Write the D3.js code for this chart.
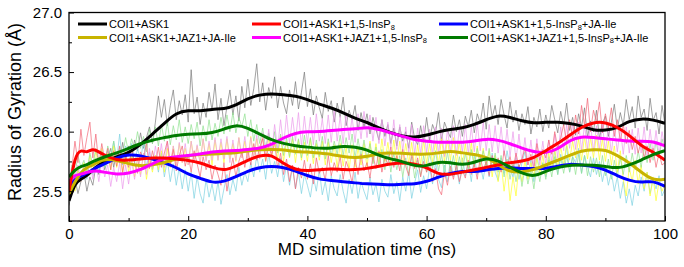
<!DOCTYPE html>
<html><head><meta charset="utf-8">
<script src="https://cdn.jsdelivr.net/npm/d3@7"></script>
<style>body{margin:0;background:#fff}svg{display:block;font-family:Arial,"Liberation Sans",sans-serif}</style>
</head><body><svg id="c" width="684" height="267"></svg>
<script>
const seriesNames = ["COI1+ASK1","COI1+ASK1+1,5-InsP8","COI1+ASK1+1,5-InsP8+JA-Ile","COI1+ASK1+JAZ1+JA-Ile","COI1+ASK1+JAZ1+1,5-InsP8","COI1+ASK1+JAZ1+1,5-InsP8+JA-Ile"];
const smoothColors = ["#000000","#ff0000","#0000ff","#c8b400","#ff00ff","#007a00"];
const rawColors = ["#7e7e7e","#f26878","#80d2e2","#ffff30","#ec9cec","#92e292"];
const xTicks = [0,20,40,60,80,100];
const xMinor = [10,30,50,70,90];
const yTicks = [25.5,26.0,26.5,27.0];
const yMinor = [25.25,25.75,26.25,26.75];
const rawStep = 0.5;
const smoothTime = [0,1,2,3,4,5,6,8,10,12,14,16,18,20,22,24,26,28,30,32,34,36,38,40,42,44,46,48,50,52,54,56,58,60,62,64,66,68,70,72,74,76,78,80,82,84,86,88,90,92,94,96,98,100];

const smoothBlack = [25.42,25.57,25.60,25.63,25.68,25.72,25.75,25.79,25.82,25.89,25.98,26.07,26.16,26.18,26.17,26.19,26.19,26.22,26.28,26.31,26.32,26.31,26.30,26.27,26.23,26.20,26.16,26.11,26.08,26.03,25.99,25.96,25.95,25.97,26.00,26.02,26.03,26.06,26.10,26.14,26.12,26.09,26.07,26.08,26.08,26.07,26.05,26.01,26.01,26.03,26.09,26.11,26.10,26.07];
const smoothRed = [25.50,25.80,25.85,25.82,25.86,25.83,25.80,25.76,25.76,25.77,25.78,25.78,25.77,25.76,25.74,25.70,25.67,25.71,25.76,25.80,25.81,25.73,25.68,25.67,25.68,25.69,25.68,25.68,25.69,25.71,25.73,25.74,25.73,25.70,25.64,25.64,25.66,25.68,25.70,25.72,25.74,25.75,25.78,25.84,25.90,25.97,26.04,26.08,26.08,26.04,25.97,25.88,25.83,25.76];
const smoothBlue = [25.54,25.60,25.63,25.65,25.68,25.71,25.73,25.78,25.81,25.80,25.77,25.74,25.70,25.64,25.61,25.57,25.58,25.62,25.67,25.70,25.71,25.70,25.67,25.63,25.60,25.59,25.58,25.57,25.56,25.56,25.55,25.56,25.56,25.58,25.62,25.65,25.67,25.66,25.68,25.69,25.70,25.69,25.69,25.69,25.71,25.73,25.72,25.71,25.68,25.63,25.59,25.57,25.59,25.54];
const smoothGold = [25.48,25.58,25.66,25.70,25.72,25.75,25.77,25.76,25.73,25.71,25.72,25.74,25.77,25.80,25.81,25.81,25.82,25.82,25.84,25.85,25.85,25.85,25.83,25.83,25.82,25.81,25.79,25.78,25.79,25.82,25.82,25.82,25.81,25.81,25.82,25.84,25.82,25.81,25.79,25.72,25.66,25.66,25.68,25.72,25.76,25.80,25.84,25.85,25.85,25.80,25.74,25.66,25.59,25.60];
const smoothMagenta = [25.58,25.64,25.64,25.66,25.67,25.67,25.66,25.64,25.65,25.68,25.73,25.78,25.79,25.80,25.81,25.83,25.84,25.84,25.85,25.86,25.89,25.95,25.99,26.00,26.00,26.01,26.02,26.02,26.04,26.02,25.99,25.96,25.93,25.92,25.91,25.91,25.91,25.92,25.94,25.93,25.90,25.86,25.83,25.82,25.85,25.93,25.96,25.95,25.94,25.93,25.92,25.92,25.92,25.88];
const smoothGreen = [25.62,25.68,25.71,25.72,25.75,25.77,25.79,25.82,25.86,25.90,25.93,25.95,25.97,25.98,25.98,25.99,26.02,26.06,26.03,25.98,25.93,25.90,25.88,25.87,25.86,25.86,25.88,25.87,25.85,25.80,25.77,25.75,25.71,25.71,25.75,25.74,25.72,25.74,25.78,25.76,25.70,25.65,25.62,25.67,25.70,25.72,25.72,25.72,25.71,25.69,25.72,25.76,25.81,25.84];

const rawBlack = [25.38,25.52,25.61,25.48,25.58,25.66,25.50,25.62,25.55,25.71,
25.64,25.80,25.68,25.77,25.86,25.70,25.83,25.74,25.91,25.76,
25.88,25.75,25.93,25.84,25.99,25.86,25.95,26.04,25.90,26.08,
26.30,26.12,26.27,26.05,26.22,26.35,26.10,26.26,26.14,26.31,
26.08,26.52,26.15,26.29,26.06,26.24,26.12,26.33,26.18,26.40,
26.10,26.28,26.05,26.21,26.35,26.14,26.30,26.09,26.38,26.20,
26.44,26.22,26.36,26.57,26.25,26.41,26.18,26.37,26.28,26.46,
26.20,26.38,26.24,26.15,26.35,26.22,26.42,26.19,26.33,26.50,
26.21,26.36,26.14,26.30,26.20,26.11,26.33,26.17,26.26,26.08,
26.24,26.12,26.29,26.05,26.18,26.10,26.22,26.01,26.16,26.04,
26.15,25.98,26.12,26.02,25.93,26.10,25.96,26.06,25.90,26.03,
25.88,26.04,25.92,26.00,25.86,26.08,25.94,25.89,26.05,25.91,
26.12,25.93,26.06,25.99,26.16,25.92,26.08,26.01,25.95,26.14,
26.00,26.10,25.96,26.13,26.04,26.18,25.99,26.15,26.07,26.24,
26.02,26.30,26.12,26.22,26.06,26.27,26.14,26.03,26.25,26.08,
26.18,26.01,26.15,26.06,26.21,25.98,26.12,26.04,26.19,26.00,
26.14,26.03,26.22,26.10,25.99,26.17,26.05,26.24,26.01,26.12,
25.97,26.15,26.04,26.20,25.95,26.09,26.00,26.18,25.94,26.07,
26.13,25.96,26.08,26.23,26.02,26.16,26.05,26.27,26.10,26.21,
26.03,26.30,26.12,26.19,26.01,26.28,26.09,26.16,25.98,26.22,
26.06];
const rawRed = [25.48,25.70,25.92,25.74,26.02,25.80,25.95,26.08,25.78,25.98,
25.72,25.90,25.76,25.86,25.68,25.84,25.71,25.88,25.66,25.80,
25.70,25.86,25.74,25.65,25.83,25.77,25.90,25.69,25.84,25.73,
25.87,25.70,25.82,25.92,25.72,25.85,25.67,25.80,25.88,25.71,
25.81,25.66,25.84,25.73,25.62,25.79,25.68,25.76,25.60,25.72,
25.64,25.55,25.74,25.50,25.66,25.78,25.62,25.75,25.83,25.70,
25.85,25.72,25.90,25.76,25.87,25.94,25.75,25.88,25.80,25.91,
25.69,25.82,25.64,25.77,25.58,25.72,25.52,25.70,25.61,25.76,
25.60,25.73,25.56,25.78,25.65,25.70,25.59,25.80,25.63,25.74,
25.66,25.79,25.60,25.75,25.68,25.57,25.77,25.64,25.81,25.67,
25.74,25.61,25.80,25.69,25.84,25.66,25.78,25.73,25.87,25.70,
25.80,25.67,25.85,25.71,25.63,25.82,25.69,25.78,25.62,25.75,
25.66,25.74,25.58,25.69,25.52,25.47,25.66,25.55,25.71,25.60,
25.72,25.58,25.68,25.61,25.76,25.64,25.73,25.60,25.79,25.67,
25.75,25.63,25.80,25.69,25.78,25.66,25.84,25.71,25.79,25.68,
25.82,25.70,25.77,25.86,25.72,25.81,25.68,25.90,25.76,25.85,
25.78,25.93,25.81,26.00,25.86,25.95,26.06,25.90,26.10,25.94,
26.14,25.98,26.22,26.05,26.28,26.00,26.18,26.08,26.25,25.99,
26.15,26.03,26.20,25.96,26.10,25.92,26.06,25.90,26.01,25.85,
25.96,25.82,25.92,25.78,25.88,25.74,25.86,25.70,25.82,25.72,
25.74];
const rawBlue = [25.50,25.62,25.55,25.68,25.58,25.72,25.60,25.75,25.64,25.78,
25.66,25.80,25.70,25.84,25.74,25.92,25.76,25.98,25.72,25.88,
25.79,25.90,25.73,25.86,25.76,25.92,25.70,25.83,25.68,25.80,
25.66,25.82,25.62,25.76,25.58,25.73,25.55,25.70,25.52,25.68,
25.50,25.66,25.44,25.62,25.48,25.40,25.60,25.45,25.56,25.42,
25.58,25.39,25.52,25.64,25.47,25.60,25.50,25.70,25.55,25.66,
25.58,25.74,25.62,25.80,25.66,25.77,25.60,25.82,25.65,25.75,
25.62,25.78,25.58,25.72,25.55,25.70,25.52,25.66,25.48,25.64,
25.55,25.45,25.62,25.50,25.68,25.47,25.58,25.42,25.63,25.52,
25.46,25.64,25.50,25.40,25.60,25.48,25.66,25.44,25.58,25.50,
25.43,25.62,25.47,25.56,25.41,25.60,25.50,25.45,25.64,25.48,
25.58,25.42,25.62,25.50,25.66,25.44,25.57,25.68,25.49,25.63,
25.52,25.70,25.56,25.74,25.60,25.53,25.72,25.58,25.76,25.62,
25.70,25.56,25.78,25.63,25.74,25.58,25.80,25.64,25.72,25.60,
25.76,25.62,25.82,25.66,25.59,25.78,25.65,25.84,25.70,25.62,
25.78,25.60,25.74,25.83,25.64,25.76,25.58,25.80,25.67,25.73,
25.62,25.79,25.68,25.84,25.64,25.81,25.70,25.88,25.66,25.79,
25.74,25.86,25.65,25.80,25.70,25.62,25.78,25.64,25.75,25.58,
25.70,25.55,25.66,25.50,25.62,25.44,25.58,25.40,25.52,25.38,
25.55,25.46,25.62,25.50,25.66,25.48,25.60,25.52,25.63,25.46,
25.52];
const rawGold = [25.44,25.56,25.50,25.68,25.58,25.74,25.64,25.80,25.66,25.84,
25.70,25.86,25.72,25.82,25.68,25.88,25.70,25.80,25.65,25.84,
25.66,25.80,25.62,25.78,25.64,25.82,25.60,25.76,25.66,25.80,
25.68,25.84,25.66,25.86,25.70,25.88,25.72,25.90,25.74,25.86,
25.72,25.92,25.75,25.88,25.74,25.94,25.76,25.90,25.72,25.93,
25.76,25.91,25.74,25.94,25.77,25.90,25.75,25.95,25.78,25.92,
25.76,25.96,25.78,25.94,25.80,25.97,25.76,25.95,25.79,25.93,
25.77,25.96,25.75,25.92,25.78,25.94,25.74,25.93,25.76,25.91,
25.75,25.94,25.73,25.90,25.76,25.92,25.72,25.91,25.74,25.89,
25.70,25.90,25.71,25.87,25.68,25.89,25.70,25.86,25.72,25.90,
25.70,25.92,25.74,25.90,25.72,25.94,25.75,25.91,25.73,25.93,
25.74,25.92,25.72,25.90,25.73,25.91,25.70,25.89,25.72,25.93,
25.73,25.90,25.74,25.92,25.72,25.94,25.75,25.93,25.76,25.95,
25.73,25.92,25.72,25.90,25.70,25.91,25.71,25.88,25.69,25.86,
25.70,25.84,25.62,25.80,25.58,25.74,25.50,25.70,25.42,25.62,
25.46,25.72,25.58,25.76,25.60,25.74,25.62,25.78,25.64,25.80,
25.64,25.82,25.68,25.85,25.70,25.88,25.72,25.90,25.76,25.92,
25.78,25.94,25.76,25.96,25.77,25.95,25.78,25.97,25.76,25.94,
25.75,25.92,25.72,25.88,25.66,25.84,25.60,25.46,25.70,25.58,
25.76,25.56,25.72,25.52,25.66,25.46,25.62,25.42,25.58,25.50,
25.56];
const rawMagenta = [25.55,25.68,25.60,25.72,25.58,25.70,25.62,25.76,25.60,25.74,
25.58,25.76,25.62,25.72,25.54,25.70,25.58,25.74,25.52,25.72,
25.56,25.76,25.60,25.78,25.62,25.82,25.64,25.86,25.70,25.88,
25.72,25.90,25.70,25.92,25.72,25.88,25.70,25.91,25.74,25.90,
25.72,25.92,25.74,25.89,25.73,25.94,25.75,25.92,25.76,25.95,
25.76,25.94,25.77,25.96,25.74,25.93,25.76,25.95,25.78,25.96,
25.76,25.95,25.78,25.97,25.77,25.99,25.80,26.02,25.82,26.06,
25.86,26.10,25.88,26.14,25.90,26.12,25.92,26.16,25.88,26.13,
25.90,26.12,25.89,26.15,25.92,26.11,25.90,26.14,25.91,26.18,
25.92,26.13,25.90,26.16,25.93,26.12,25.91,26.15,25.94,26.17,
25.95,26.14,25.92,26.12,25.90,26.10,25.88,26.08,25.86,26.10,
25.85,26.06,25.84,26.04,25.82,26.06,25.81,26.03,25.80,26.05,
25.82,26.02,25.80,26.04,25.81,26.03,25.79,26.02,25.82,26.05,
25.80,26.03,25.82,26.06,25.81,26.04,25.83,26.07,25.84,26.08,
25.84,26.06,25.83,26.05,25.82,26.04,25.80,26.02,25.79,26.00,
25.76,25.98,25.74,25.95,25.72,25.93,25.71,25.94,25.72,25.92,
25.72,25.93,25.74,25.98,25.78,26.04,25.84,26.06,25.86,26.07,
25.85,26.08,25.84,26.06,25.85,26.07,25.83,26.05,25.84,26.06,
25.83,26.04,25.82,26.05,25.83,26.03,25.81,26.04,25.82,26.02,
25.81,26.03,25.82,26.04,25.80,26.02,25.81,26.01,25.80,26.00,
25.86];
const rawGreen = [25.58,25.72,25.64,25.80,25.70,25.76,25.66,25.82,25.72,25.86,
25.74,25.84,25.70,25.88,25.78,25.92,25.76,25.87,25.80,25.95,
25.82,25.94,25.85,26.00,25.86,25.96,25.83,26.02,25.90,26.04,
25.88,26.06,25.92,26.08,25.89,26.05,25.93,26.10,25.91,26.04,
25.90,26.06,25.94,26.08,25.88,26.05,25.92,26.10,25.93,26.07,
25.96,26.12,25.98,26.14,26.00,26.16,25.99,26.12,26.04,26.15,
25.96,26.10,25.92,26.06,25.90,26.03,25.86,25.99,25.84,26.00,
25.82,25.98,25.80,25.95,25.79,25.96,25.81,25.94,25.78,25.97,
25.80,25.95,25.78,25.93,25.79,25.96,25.77,25.94,25.80,25.92,
25.81,25.97,25.80,25.95,25.82,25.98,25.78,25.94,25.79,25.93,
25.77,25.90,25.73,25.87,25.71,25.85,25.68,25.84,25.66,25.82,
25.68,25.80,25.62,25.78,25.64,25.79,25.61,25.76,25.63,25.80,
25.66,25.82,25.69,25.84,25.67,25.81,25.65,25.83,25.66,25.80,
25.64,25.79,25.66,25.82,25.68,25.85,25.70,25.86,25.72,25.84,
25.70,25.86,25.68,25.82,25.66,25.80,25.62,25.77,25.60,25.74,
25.58,25.72,25.54,25.70,25.56,25.68,25.52,25.71,25.58,25.74,
25.60,25.76,25.62,25.79,25.64,25.78,25.65,25.80,25.66,25.79,
25.64,25.81,25.65,25.80,25.63,25.79,25.66,25.78,25.62,25.80,
25.63,25.77,25.60,25.76,25.62,25.78,25.64,25.80,25.66,25.82,
25.68,25.84,25.70,25.88,25.74,25.90,25.76,25.92,25.78,25.94,
25.84];

const smoothSeries = [smoothBlack, smoothRed, smoothBlue, smoothGold, smoothMagenta, smoothGreen];
const rawSeries = [rawBlack, rawRed, rawBlue, rawGold, rawMagenta, rawGreen];

const svg = d3.select("#c");
const x = d3.scaleLinear().domain([0,100]).range([69,665]);
const y = d3.scaleLinear().domain([25.25,27.0]).range([221,12.5]);

svg.append("defs").append("clipPath").attr("id","clip").append("rect")
  .attr("x",69).attr("y",12.5).attr("width",596).attr("height",208.5);

const plot = svg.append("g").attr("clip-path","url(#clip)");
const rawLine = d3.line().x((d,i)=>x(i*rawStep)).y(d=>y(d));
const smLine = d3.line().x((d,i)=>x(smoothTime[i])).y(d=>y(d)).curve(d3.curveBasis);

const rawOrder = [0,2,3,5,4,1];
rawOrder.forEach(k=>{
  plot.append("path").datum(rawSeries[k]).attr("d",rawLine)
    .attr("fill","none").attr("stroke",rawColors[k]).attr("stroke-width",0.8).attr("stroke-opacity",0.9);
});
const smOrder = [0,2,3,4,1,5];
smOrder.forEach(k=>{
  plot.append("path").datum(smoothSeries[k]).attr("d",smLine)
    .attr("fill","none").attr("stroke",smoothColors[k]).attr("stroke-width",3).attr("stroke-linejoin","round");
});

// axes
svg.append("g").attr("transform","translate(0,221)")
  .call(d3.axisBottom(x).tickValues(xTicks).tickSize(-5).tickPadding(7).tickFormat(d3.format("d")));
svg.append("g").attr("transform","translate(0,221)")
  .call(d3.axisBottom(x).tickValues(xMinor).tickSize(-3).tickFormat(""));
svg.append("g").attr("transform","translate(69,0)")
  .call(d3.axisLeft(y).tickValues(yTicks).tickSize(-5).tickPadding(7).tickFormat(d3.format(".1f")));
svg.append("g").attr("transform","translate(69,0)")
  .call(d3.axisLeft(y).tickValues(yMinor).tickSize(-3).tickFormat(""));
svg.selectAll(".domain").remove();
svg.selectAll(".tick line").attr("stroke","#000").attr("stroke-width",1);
svg.selectAll(".tick text").attr("font-size",15).attr("font-family","Arial, 'Liberation Sans', sans-serif").attr("fill","#000");

svg.append("rect").attr("x",69).attr("y",12.5).attr("width",596).attr("height",208.5)
  .attr("fill","none").attr("stroke","#000").attr("stroke-width",1.3);

// titles
svg.append("text").attr("x",367).attr("y",255).attr("text-anchor","middle")
  .attr("font-size",17).text("MD simulation time (ns)");
svg.append("text").attr("transform","translate(21,112) rotate(-90)").attr("text-anchor","middle")
  .attr("font-size",18).text("Radius of Gyration (Å)");

// legend
const legX = [78,252,439];
const legY = [24,37.5];
const legendOrder = [[0,0,0],[1,1,0],[2,2,0],[3,0,1],[4,1,1],[5,2,1]];
function addLabel(g, name){
  const parts = name.split("InsP8");
  const t = g.append("text").attr("x",31).attr("y",4).attr("font-size",11);
  parts.forEach((p,i)=>{
    if(i>0){
      t.append("tspan").text("InsP");
      t.append("tspan").attr("font-size",7.5).attr("dy",1.5).text("8");
      t.append("tspan").attr("dy",-1.5).text(p);
    } else t.append("tspan").text(p);
  });
}
legendOrder.forEach(([k,c,r])=>{
  const g = svg.append("g").attr("transform",`translate(${legX[c]},${legY[r]})`);
  g.append("line").attr("x1",0).attr("x2",29).attr("y1",0).attr("y2",0)
    .attr("stroke",smoothColors[k]).attr("stroke-width",3);
  addLabel(g, seriesNames[k]);
});
</script></body></html>
